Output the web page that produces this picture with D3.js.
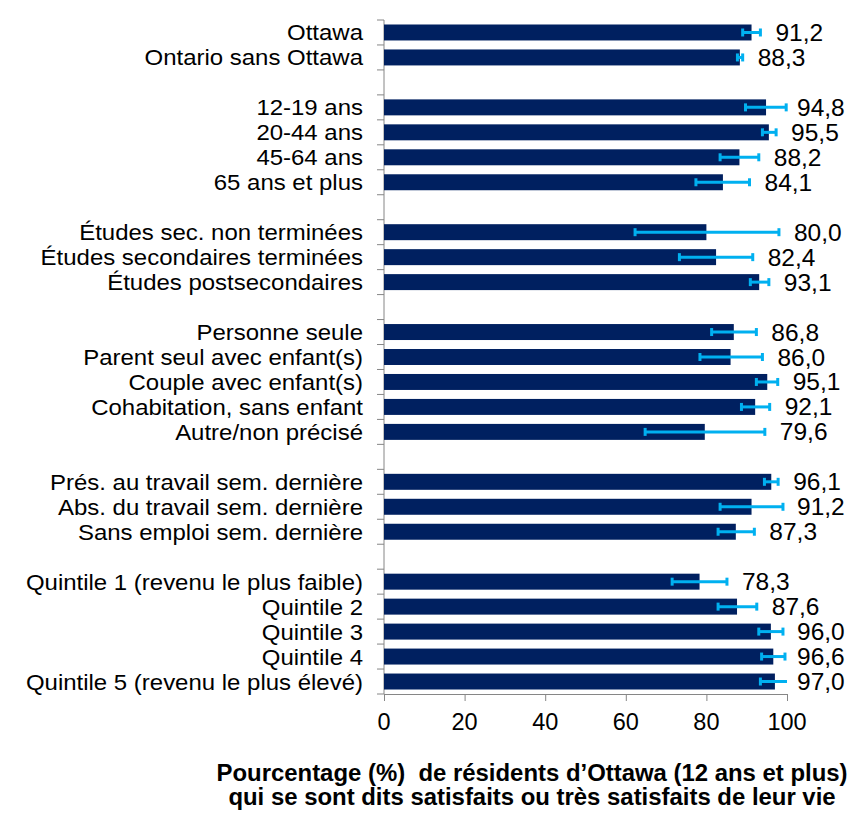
<!DOCTYPE html>
<html>
<head>
<meta charset="utf-8">
<script src="https://cdn.jsdelivr.net/npm/d3@7"></script>
<style>
  body { margin: 0; background: #fff; }
  svg { display: block; font-family: "Liberation Sans", Arial, sans-serif; }
</style>
</head>
<body>
<svg id="chart"></svg>
<script>
// catégories, dans l'ordre d'affichage (de haut en bas)
const categories = [
  'Ottawa', 'Ontario sans Ottawa',
  '12-19 ans', '20-44 ans', '45-64 ans', '65 ans et plus',
  'Études sec. non terminées', 'Études secondaires terminées', 'Études postsecondaires',
  'Personne seule', 'Parent seul avec enfant(s)', 'Couple avec enfant(s)',
  'Cohabitation, sans enfant', 'Autre/non précisé',
  'Prés. au travail sem. dernière', 'Abs. du travail sem. dernière', 'Sans emploi sem. dernière',
  'Quintile 1 (revenu le plus faible)', 'Quintile 2', 'Quintile 3', 'Quintile 4',
  'Quintile 5 (revenu le plus élevé)'
];
const groupSizes = [2, 4, 3, 5, 3, 5];
const values = [91.2, 88.3, 94.8, 95.5, 88.2, 84.1, 80.0, 82.4, 93.1, 86.8, 86.0,
  95.1, 92.1, 79.6, 96.1, 91.2, 87.3, 78.3, 87.6, 96.0, 96.6, 97.0];
// intervalles de confiance
const ciLow = [89.0, 87.7, 89.7, 93.9, 83.4, 77.4, 62.3, 73.3, 90.9, 81.3, 78.4,
  92.4, 88.7, 64.8, 94.4, 83.4, 82.9, 71.5, 82.9, 93.0, 93.7, 93.4];
const ciHigh = [93.4, 89.0, 99.8, 97.3, 93.0, 90.7, 98.0, 91.5, 95.5, 92.4, 93.9,
  97.7, 95.7, 94.5, 97.8, 99.0, 91.9, 85.1, 92.5, 99.0, 99.5, 100.6];
const xTicks = [0, 20, 40, 60, 80, 100];
const titleLines = [
  'Pourcentage (%)  de résidents d’Ottawa (12 ans et plus)',
  'qui se sont dits satisfaits ou très satisfaits de leur vie'
];

const W = 851, H = 824;
const plot = { left: 384, right: 787, top: 20, bottom: 694 };

const data = categories.map((c, i) => ({ c, v: values[i], lo: ciLow[i], hi: ciHigh[i] }));

// créneaux : catégories + lignes vides entre groupes
const slots = [];
let k = 0;
groupSizes.forEach((n, g) => {
  if (g > 0) slots.push('__gap' + g);
  for (let j = 0; j < n; j++) slots.push(categories[k++]);
});

const x = d3.scaleLinear().domain([0, 100]).range([plot.left, plot.right]);
const y = d3.scaleBand()
  .domain(slots)
  .range([plot.top, plot.bottom])
  .paddingInner(0.36)
  .paddingOuter(0.18);

const fr = d3.formatLocale({ decimal: ',', thousands: ' ', grouping: [3], currency: ['', ''] }).format('.1f');

const svg = d3.select('#chart').attr('width', W).attr('height', H);
svg.append('rect').attr('width', W).attr('height', H).attr('fill', '#fff');

// axe vertical (ligne + graduations entre les catégories)
const gy = svg.append('g');
gy.append('line')
  .attr('x1', plot.left).attr('x2', plot.left)
  .attr('y1', plot.top).attr('y2', plot.bottom)
  .attr('stroke', '#868686').attr('stroke-width', 1);
gy.selectAll('line.tk')
  .data(d3.range(slots.length + 1))
  .enter().append('line')
  .attr('class', 'tk')
  .attr('x1', plot.left - 7).attr('x2', plot.left)
  .attr('y1', i => plot.top + i * y.step())
  .attr('y2', i => plot.top + i * y.step())
  .attr('stroke', '#868686');

// axe horizontal
const xAxis = d3.axisBottom(x).tickValues(xTicks).tickSize(7).tickPadding(0).tickFormat('');
const gx = svg.append('g')
  .attr('transform', `translate(0, ${ plot.bottom })`)
  .call(xAxis);
gx.select('.domain').attr('stroke', '#868686');
gx.selectAll('.tick line').attr('stroke', '#868686');
svg.selectAll('text.xt')
  .data(xTicks)
  .enter().append('text')
  .attr('class', 'xt')
  .attr('x', d => x(d))
  .attr('y', 729.5)
  .attr('text-anchor', 'middle')
  .attr('font-size', 23.5)
  .attr('fill', '#000')
  .text(d => d);

// barres
svg.selectAll('rect.bar')
  .data(data)
  .enter().append('rect')
  .attr('class', 'bar')
  .attr('x', x(0))
  .attr('y', d => y(d.c))
  .attr('width', d => x(d.v) - x(0))
  .attr('height', y.bandwidth())
  .attr('fill', '#002060');

// barres d'erreur
const eb = svg.append('g').attr('stroke', '#00b0f0').attr('stroke-width', 3);
const cy = d => y(d.c) + y.bandwidth() / 2;
eb.selectAll('line.ci')
  .data(data)
  .enter().append('line')
  .attr('class', 'ci')
  .attr('x1', d => x(d.lo))
  .attr('x2', d => x(Math.min(d.hi, 100)))
  .attr('y1', cy).attr('y2', cy);
const caps = [];
data.forEach(d => {
  caps.push({ d, v: d.lo });
  if (d.hi <= 100) caps.push({ d, v: d.hi });
});
eb.selectAll('line.cap')
  .data(caps)
  .enter().append('line')
  .attr('class', 'cap')
  .attr('x1', c => x(c.v)).attr('x2', c => x(c.v))
  .attr('y1', c => cy(c.d) - 4).attr('y2', c => cy(c.d) + 4);

// étiquettes de valeur
svg.selectAll('text.val')
  .data(data)
  .enter().append('text')
  .attr('class', 'val')
  .attr('x', d => Math.min(x(Math.min(d.hi, 100)) + 15, 797))
  .attr('y', d => cy(d) + 8.5)
  .attr('font-size', 24.5)
  .attr('fill', '#000')
  .text(d => fr(d.v));

// étiquettes de catégories
svg.selectAll('text.cat')
  .data(data)
  .enter().append('text')
  .attr('class', 'cat')
  .attr('transform', d => `translate(363, ${ cy(d) + 8 }) scale(1.09, 1)`)
  .attr('text-anchor', 'end')
  .attr('font-size', 22)
  .attr('fill', '#000')
  .text(d => d.c);

// titre de l'axe
svg.selectAll('text.title')
  .data(titleLines)
  .enter().append('text')
  .attr('class', 'title')
  .attr('transform', (d, i) => `translate(532, ${ 781 + i * 24 }) scale(1.04, 1)`)
  .attr('text-anchor', 'middle')
  .attr('font-size', 23)
  .attr('font-weight', 'bold')
  .attr('fill', '#000')
  .style('white-space', 'pre')
  .text(d => d);
</script>
</body>
</html>
